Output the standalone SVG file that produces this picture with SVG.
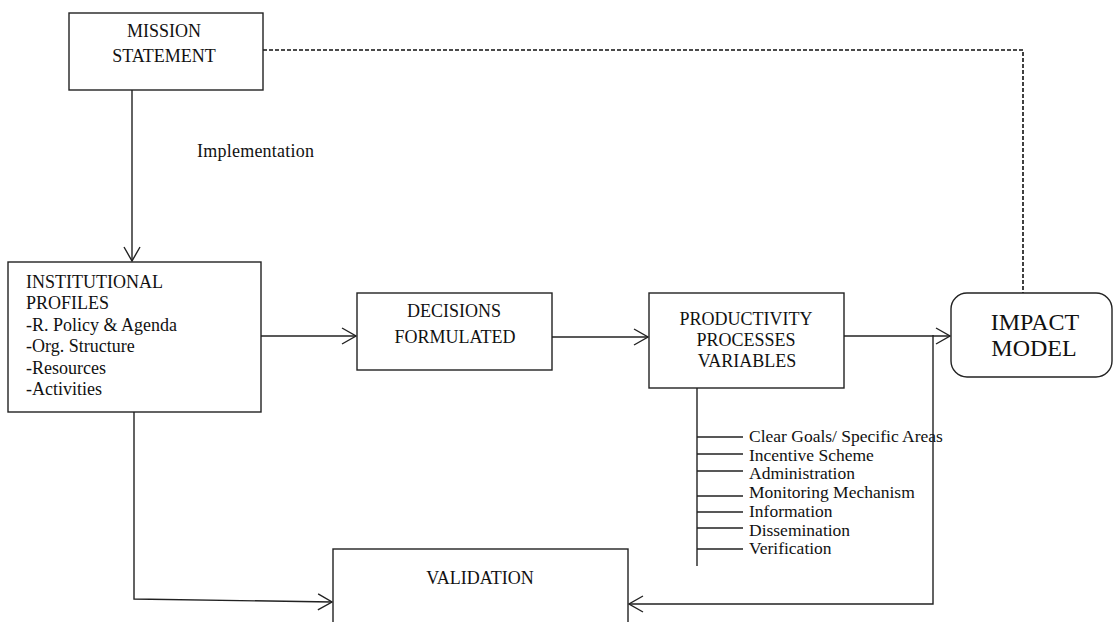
<svg xmlns="http://www.w3.org/2000/svg" width="1113" height="622" viewBox="0 0 1113 622">
<defs>
<style>
.box{fill:#fff;stroke:#222;stroke-width:1.4}
.ln{fill:none;stroke:#222;stroke-width:1.4}
.dash{fill:none;stroke:#111;stroke-width:1.6;stroke-dasharray:4 2}
.t{font-family:"Liberation Serif","Times New Roman",serif;fill:#111}
.c{text-anchor:middle}
</style>
<marker id="arr" markerUnits="userSpaceOnUse" viewBox="0 0 16 18" refX="15" refY="9" markerWidth="16" markerHeight="18" orient="auto">
<path d="M1,1 L15,9 L1,17" fill="none" stroke="#222" stroke-width="1.4"/>
</marker>
</defs>
<rect width="1113" height="622" fill="#fff"/>

<g id="connectors">
<path class="ln" d="M132,90 L132,261" marker-end="url(#arr)"/>
<path class="dash" d="M263,50 L1023,50 L1023,293"/>
<path class="ln" d="M261,336 L356,336" marker-end="url(#arr)"/>
<path class="ln" d="M552,337 L648,337" marker-end="url(#arr)"/>
<path class="ln" d="M844,336 L950,336" marker-end="url(#arr)"/>
<path class="ln" d="M933,335 L933,604 L629,604" marker-end="url(#arr)"/>
<path class="ln" d="M134,412 L134,599 L332,602" marker-end="url(#arr)"/>
<path class="ln" d="M697,388 L697,566"/>
<path class="ln" d="M697,437 H743 M697,454 H743 M697,471 H743 M697,496 H743 M697,512 H743 M697,528 H743 M697,549 H743"/>
</g>

<g id="mission">
<rect class="box" x="69" y="13" width="194" height="77"/>
<text class="t c" x="164" y="37" font-size="18">MISSION</text>
<text class="t c" x="164" y="62" font-size="18">STATEMENT</text>
</g>

<g id="implementation-label">
<text class="t" x="197" y="157" font-size="18" textLength="117">Implementation</text>
</g>

<g id="institutional">
<rect class="box" x="8" y="262" width="253" height="150"/>
<text class="t" x="26" y="288" font-size="18">INSTITUTIONAL</text>
<text class="t" x="26" y="309" font-size="18">PROFILES</text>
<text class="t" x="26" y="331" font-size="18">-R. Policy &amp; Agenda</text>
<text class="t" x="26" y="352" font-size="18">-Org. Structure</text>
<text class="t" x="26" y="374" font-size="18">-Resources</text>
<text class="t" x="26" y="395" font-size="18">-Activities</text>
</g>

<g id="decisions">
<rect class="box" x="357" y="293" width="195" height="77"/>
<text class="t c" x="454" y="317" font-size="18">DECISIONS</text>
<text class="t c" x="455" y="343" font-size="18">FORMULATED</text>
</g>

<g id="productivity">
<rect class="box" x="649" y="293" width="195" height="95"/>
<text class="t c" x="746" y="325" font-size="18">PRODUCTIVITY</text>
<text class="t c" x="746" y="346" font-size="18">PROCESSES</text>
<text class="t c" x="747" y="367" font-size="18">VARIABLES</text>
</g>

<g id="impact">
<rect class="box" x="951" y="293" width="161" height="84" rx="16" ry="16"/>
<text class="t c" x="1035" y="330" font-size="24">IMPACT</text>
<text class="t c" x="1034" y="356" font-size="24">MODEL</text>
</g>

<g id="variables-list">
<text class="t" x="749" y="442" font-size="17.5">Clear Goals/ Specific Areas</text>
<text class="t" x="749" y="460.7" font-size="17.5">Incentive Scheme</text>
<text class="t" x="749" y="479.4" font-size="17.5">Administration</text>
<text class="t" x="749" y="498" font-size="17.5">Monitoring Mechanism</text>
<text class="t" x="749" y="516.8" font-size="17.5">Information</text>
<text class="t" x="749" y="535.5" font-size="17.5">Dissemination</text>
<text class="t" x="749" y="554" font-size="17.5">Verification</text>
</g>

<g id="validation">
<rect class="box" x="333" y="549" width="295" height="90"/>
<text class="t c" x="480" y="584" font-size="18">VALIDATION</text>
</g>
</svg>
